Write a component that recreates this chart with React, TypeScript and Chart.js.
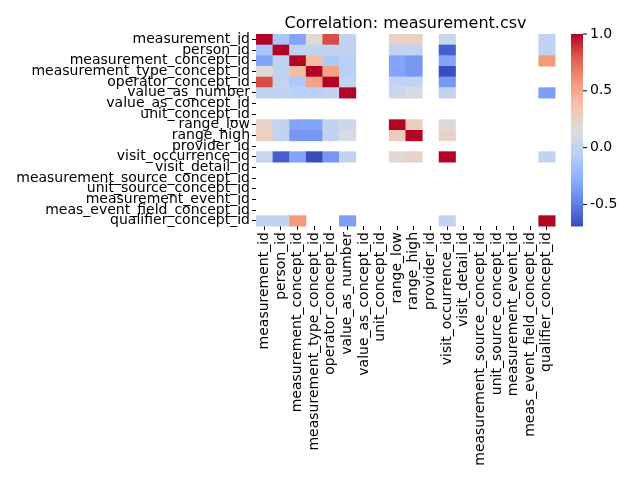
import React, { useEffect, useRef } from 'react';
import Chart from 'chart.js/auto';

const labels = [
  'measurement_id', 'person_id', 'measurement_concept_id', 'measurement_type_concept_id',
  'operator_concept_id', 'value_as_number', 'value_as_concept_id', 'unit_concept_id',
  'range_low', 'range_high', 'provider_id', 'visit_occurrence_id', 'visit_detail_id',
  'measurement_source_concept_id', 'unit_source_concept_id', 'measurement_event_id',
  'meas_event_field_concept_id', 'qualifier_concept_id',
];

const N = null;
// upper triangle by row; matrix is symmetric
const corr: (number | null)[][] = [
  [1, -0.13, -0.32, 0.19, 0.83, 0.0, N, N, 0.25, 0.27, N, 0.03, N, N, N, N, N, 0.0],
  [-0.13, 1, 0.0, 0.0, 0.0, 0.0, N, N, 0.0, 0.0, N, -0.62, N, N, N, N, N, 0.0],
  [-0.32, 0.0, 1, 0.41, -0.1, -0.05, N, N, -0.32, -0.38, N, -0.32, N, N, N, N, N, 0.58],
  [0.19, 0.0, 0.41, 1, 0.53, -0.05, N, N, -0.32, -0.38, N, -0.69, N, N, N, N, N, N],
  [0.83, 0.0, -0.1, 0.53, 1, 0.0, N, N, 0.0, 0.0, N, -0.38, N, N, N, N, N, N],
  [0.0, 0.0, -0.05, -0.05, 0.0, 1, N, N, 0.06, 0.12, N, 0.0, N, N, N, N, N, -0.35],
  [N, N, N, N, N, N, N, N, N, N, N, N, N, N, N, N, N, N],
  [N, N, N, N, N, N, N, N, N, N, N, N, N, N, N, N, N, N],
  [0.25, 0.0, -0.32, -0.32, 0.0, 0.06, N, N, 1, 0.3, N, 0.2, N, N, N, N, N, N],
  [0.27, 0.0, -0.38, -0.38, 0.0, 0.12, N, N, 0.3, 1, N, 0.25, N, N, N, N, N, N],
  [N, N, N, N, N, N, N, N, N, N, N, N, N, N, N, N, N, N],
  [0.03, -0.62, -0.32, -0.69, -0.38, 0.0, N, N, 0.2, 0.25, N, 1, N, N, N, N, N, 0.0],
  [N, N, N, N, N, N, N, N, N, N, N, N, N, N, N, N, N, N],
  [N, N, N, N, N, N, N, N, N, N, N, N, N, N, N, N, N, N],
  [N, N, N, N, N, N, N, N, N, N, N, N, N, N, N, N, N, N],
  [N, N, N, N, N, N, N, N, N, N, N, N, N, N, N, N, N, N],
  [N, N, N, N, N, N, N, N, N, N, N, N, N, N, N, N, N, N],
  [0.0, 0.0, 0.58, N, N, -0.35, N, N, N, N, N, 0.0, N, N, N, N, N, 1],
];

const vmin = -0.69;
const vmax = 1;
const cbarTicks = [-0.5, 0.0, 0.5, 1.0];

const stops: [number, number, number][] = [
  [59, 76, 192], [98, 130, 234], [141, 176, 254], [184, 208, 249], [221, 221, 221],
  [245, 196, 173], [244, 154, 123], [222, 96, 77], [180, 4, 38],
];

function coolwarm(v: number) {
  let t = (v - vmin) / (vmax - vmin);
  t = Math.max(0, Math.min(1, t)) * (stops.length - 1);
  const i = Math.min(Math.floor(t), stops.length - 2);
  const f = t - i;
  const c = stops[i].map((a, k) => Math.round(a + (stops[i + 1][k] - a) * f));
  return `rgb(${c[0]},${c[1]},${c[2]})`;
}

const FONT = 'DejaVu Sans';

const heatmapPlugin = {
  id: 'heatmap',
  beforeDatasetsDraw(chart: any) {
    const { ctx, scales: { x, y }, chartArea } = chart;
    ctx.save();
    corr.forEach((row, r) => {
      row.forEach((v, c) => {
        if (v === null) return;
        const x0 = x.getPixelForValue(c - 0.5);
        const x1 = x.getPixelForValue(c + 0.5);
        const y0 = y.getPixelForValue(r - 0.5);
        const y1 = y.getPixelForValue(r + 0.5);
        ctx.fillStyle = coolwarm(v);
        ctx.fillRect(x0, y0, x1 - x0 + 0.5, y1 - y0 + 0.5);
      });
    });
    // colorbar
    const cx = 571, cw = 12;
    const top = chartArea.top, bottom = chartArea.bottom;
    for (let py = top; py < bottom; py++) {
      const v = vmax - ((py - top) / (bottom - top)) * (vmax - vmin);
      ctx.fillStyle = coolwarm(v);
      ctx.fillRect(cx, py, cw, 1.5);
    }
    ctx.fillStyle = '#000';
    ctx.strokeStyle = '#000';
    ctx.font = `14px "${FONT}"`;
    ctx.textBaseline = 'middle';
    ctx.textAlign = 'left';
    cbarTicks.forEach((t) => {
      const py = top + ((vmax - t) / (vmax - vmin)) * (bottom - top);
      ctx.beginPath();
      ctx.moveTo(cx + cw, py);
      ctx.lineTo(cx + cw + 4, py);
      ctx.stroke();
      ctx.fillText(t.toFixed(1), cx + cw + 7, py);
    });
    // title
    ctx.font = `16px "${FONT}"`;
    ctx.textAlign = 'center';
    ctx.textBaseline = 'alphabetic';
    ctx.fillText('Correlation: measurement.csv', (chartArea.left + chartArea.right) / 2, 28);
    ctx.restore();
  },
};

const idx = labels.map((_, i) => i);

export default function App() {
  const ref = useRef<HTMLCanvasElement | null>(null);
  useEffect(() => {
    const c = ref.current;
    if (!c) return;
    const tickCfg = {
      color: '#000',
      font: { family: FONT, size: 14 },
      autoSkip: false,
      padding: 2,
      callback: (v: any) => labels[v] ?? '',
    };
    const chart = new Chart(c, {
      type: 'scatter',
      data: { datasets: [{ data: [] }] },
      options: {
        animation: false,
        responsive: false,
        layout: { padding: { top: 34, right: 85, left: 0, bottom: 0 } },
        plugins: { legend: { display: false }, tooltip: { enabled: false } },
        scales: {
          x: {
            type: 'linear', min: -0.5, max: 17.5,
            afterBuildTicks: (s: any) => { s.ticks = idx.map((v) => ({ value: v })); },
            afterFit: (s: any) => { s.height = 254; },
            ticks: { ...tickCfg, maxRotation: 90, minRotation: 90 },
            grid: { drawOnChartArea: false, tickLength: 4, color: '#000' },
            border: { display: false },
          },
          y: {
            type: 'linear', min: -0.5, max: 17.5, reverse: true,
            afterBuildTicks: (s: any) => { s.ticks = idx.map((v) => ({ value: v })); },
            afterFit: (s: any) => { s.width = 256; },
            ticks: tickCfg,
            grid: { drawOnChartArea: false, tickLength: 4, color: '#000' },
            border: { display: false },
          },
        },
      },
      plugins: [heatmapPlugin],
    });
    return () => chart.destroy();
  }, []);
  return (
    <div style={{ position: 'absolute', left: 0, top: 0, width: 640, height: 480, background: '#fff' }}>
      <canvas ref={ref} width={640} height={480} />
    </div>
  );
}
